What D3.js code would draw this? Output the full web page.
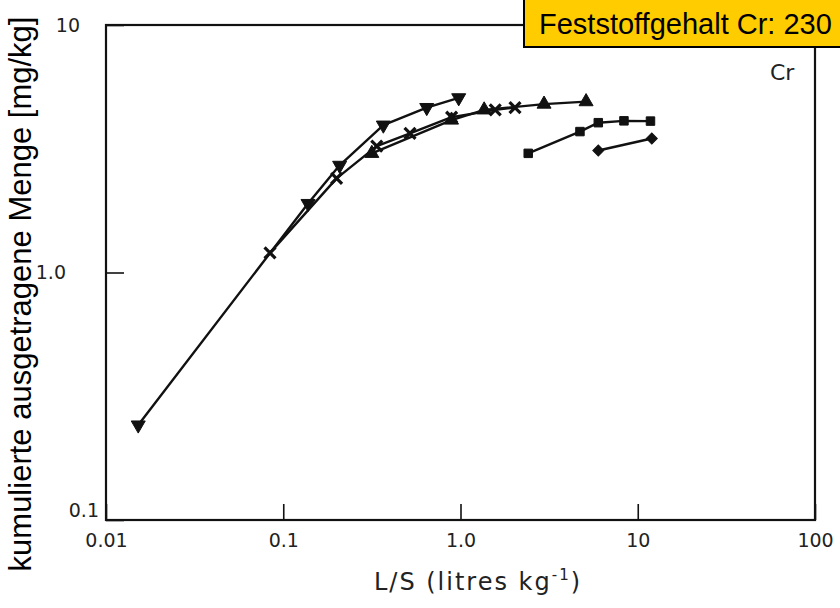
<!DOCTYPE html>
<html>
<head>
<meta charset="utf-8">
<script src="https://cdn.jsdelivr.net/npm/d3@7"></script>
<style>
  body { margin: 0; background: #fff; }
  svg { display: block; }
</style>
</head>
<body>
<div id="chart"></div>
<script>
/* Data */
const xTicks = [0.01, 0.1, 1, 10, 100]
const xTickLabels = ["0.01", "0.1", "1.0", "10", "100"]
const yTicks = [0.1, 1, 10]
const yTickLabels = ["0.1", "1.0", "10"]

const lsDown = [0.0152, 0.138, 0.208, 0.367, 0.645, 0.977]
const cumDown = [0.242, 1.90, 2.71, 3.94, 4.64, 5.08]
const lsCross = [0.0842, 0.20, 0.337, 0.519, 0.891, 1.57, 2.03]
const cumCross = [1.20, 2.40, 3.24, 3.65, 4.24, 4.54, 4.64]
const lsUp = [0.316, 0.89, 1.36, 2.96, 5.11]
const cumUp = [3.03, 4.13, 4.54, 4.79, 4.90]
const lsSquare = [2.41, 4.72, 5.99, 8.36, 11.8]
const cumSquare = [3.03, 3.71, 4.03, 4.10, 4.09]
const lsDiamond = [5.99, 12.0]
const cumDiamond = [3.11, 3.48]

const BOX_TEXT = "Feststoffgehalt Cr: 230"
const Y_TITLE = "kumulierte ausgetragene Menge [mg/kg]"

/* Layout */
const WIDTH = 840
const HEIGHT = 608
const PLOT = {"LEFT": 106, "RIGHT": 815, "TOP": 25, "BOTTOM": 520}
const TICK_FONT = "'DejaVu Sans', sans-serif"
const INK = "#111"

const svg = d3.select("#chart")
              .append("svg")
              .attr("width", WIDTH)
              .attr("height", HEIGHT);

const x = d3.scaleLog().domain([0.01, 100]).range([PLOT.LEFT, PLOT.RIGHT]);
const y = d3.scaleLog().domain([0.1, 10]).range([PLOT.BOTTOM, PLOT.TOP]);

/* Axes: inward ticks, frame drawn separately */
const xAxis = d3.axisBottom(x)
                .tickValues(xTicks)
                .tickSize(-16)
                .tickPadding(14)
                .tickFormat((d, i) => xTickLabels[i]);
const gx = svg.append("g")
              .attr("transform", "translate(0," + PLOT.BOTTOM + ")")
              .call(xAxis);
gx.select(".domain").remove();
gx.selectAll(".tick line").attr("stroke", INK).attr("stroke-width", 1.6);
gx.selectAll(".tick text")
  .attr("font-family", TICK_FONT)
  .attr("font-size", 19)
  .attr("fill", "#222");

const yAxis = d3.axisLeft(y)
                .tickValues(yTicks)
                .tickSize(-18)
                .tickPadding(30)
                .tickFormat((d, i) => yTickLabels[i]);
const gy = svg.append("g")
              .attr("transform", "translate(" + PLOT.LEFT + ",0)")
              .call(yAxis);
gy.select(".domain").remove();
gy.selectAll(".tick line").attr("stroke", INK).attr("stroke-width", 1.6);
gy.selectAll(".tick text")
  .attr("font-family", TICK_FONT)
  .attr("font-size", 19)
  .attr("fill", "#222")
  .attr("dx", (d) => d === 0.1 ? 23 : (d === 10 ? 4 : -10))
  .attr("dy", (d) => d === 0.1 ? "-0.2em" : "0.32em");

/* Frame */
svg.append("rect")
   .attr("x", PLOT.LEFT)
   .attr("y", PLOT.TOP)
   .attr("width", PLOT.RIGHT - PLOT.LEFT)
   .attr("height", PLOT.BOTTOM - PLOT.TOP)
   .attr("fill", "none")
   .attr("stroke", INK)
   .attr("stroke-width", 2.2);

/* Series */
const series = [
  {"xs": lsDown, "ys": cumDown, "sym": d3.symbolTriangle, "size": 85, "rot": 180, "fill": true},
  {"xs": lsCross, "ys": cumCross, "sym": d3.symbolX, "size": 80, "rot": 0, "fill": false},
  {"xs": lsUp, "ys": cumUp, "sym": d3.symbolTriangle, "size": 85, "rot": 0, "fill": true},
  {"xs": lsSquare, "ys": cumSquare, "sym": d3.symbolSquare, "size": 72, "rot": 0, "fill": true},
  {"xs": lsDiamond, "ys": cumDiamond, "sym": d3.symbolSquare, "size": 60, "rot": 45, "fill": true}
];

const line = d3.line()
               .x((d) => x(d[0]))
               .y((d) => y(d[1]));

series.forEach((s) => {
  const pts = s.xs.map((v, i) => [v, s.ys[i]]);
  svg.append("path")
     .datum(pts)
     .attr("d", line)
     .attr("fill", "none")
     .attr("stroke", INK)
     .attr("stroke-width", 2.4)
     .attr("stroke-linejoin", "round");
  svg.append("g")
     .selectAll("path")
     .data(pts)
     .enter()
     .append("path")
     .attr("d", d3.symbol().type(s.sym).size(s.size))
     .attr("transform", (d) => "translate(" + x(d[0]) + "," + y(d[1]) + ") rotate(" + s.rot + ")")
     .attr("fill", s.fill ? INK : "none")
     .attr("stroke", INK)
     .attr("stroke-width", s.fill ? 1 : 3.2);
});

/* "Cr" label inside plot */
svg.append("text")
   .attr("x", 770)
   .attr("y", 80)
   .attr("font-family", TICK_FONT)
   .attr("font-size", 22)
   .attr("fill", "#222")
   .text("Cr");

/* X axis title with superscript */
const xt = svg.append("text")
              .attr("x", 478)
              .attr("y", 590)
              .attr("text-anchor", "middle")
              .attr("font-family", TICK_FONT)
              .attr("font-size", 24)
              .attr("letter-spacing", 2)
              .attr("fill", "#222");
xt.append("tspan").text("L/S (litres kg");
xt.append("tspan").attr("dy", -10).attr("font-size", 15).text("-1");
xt.append("tspan").attr("dy", 10).text(")");

/* Y axis title */
svg.append("text")
   .attr("transform", "translate(31," + 294 + ") rotate(-90)")
   .attr("text-anchor", "middle")
   .attr("font-family", "'Liberation Sans', Arial, sans-serif")
   .attr("font-size", 31)
   .attr("fill", "#000")
   .text(Y_TITLE);

/* Highlight box top right */
svg.append("rect")
   .attr("x", 524)
   .attr("y", -2)
   .attr("width", 320)
   .attr("height", 49)
   .attr("fill", "#FFCC00")
   .attr("stroke", "#000")
   .attr("stroke-width", 2);
svg.append("text")
   .attr("x", 539)
   .attr("y", 34)
   .attr("font-family", "'Liberation Sans', Arial, sans-serif")
   .attr("font-size", 29)
   .attr("fill", "#000")
   .text(BOX_TEXT);
</script>
</body>
</html>
